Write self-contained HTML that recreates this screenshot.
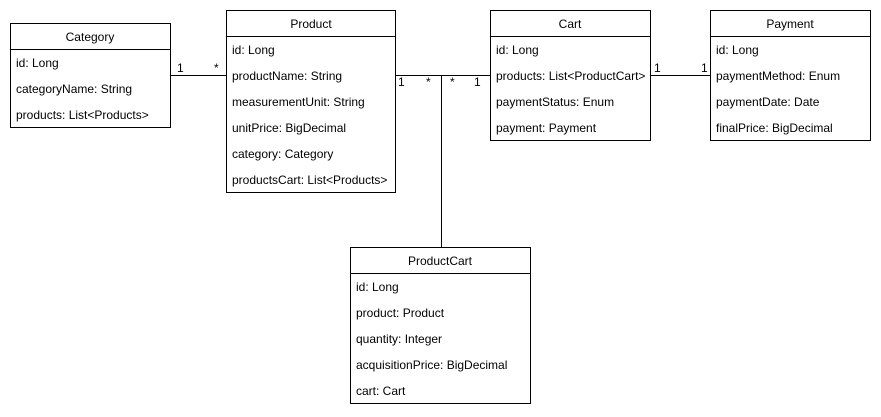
<!DOCTYPE html>
<html><head><meta charset="utf-8"><style>
html,body{margin:0;padding:0;background:#fff;}
svg{display:block;}
text{font-family:"Liberation Sans",Arial,sans-serif;font-size:12px;fill:#000;}
</style></head><body>
<svg width="881" height="417" viewBox="0 0 881 417" xmlns="http://www.w3.org/2000/svg">
<g fill="none" stroke="#000" stroke-width="1">
<line x1="170" y1="75.5" x2="226" y2="75.5"/>
<line x1="395" y1="75.5" x2="490" y2="75.5"/>
<line x1="441.5" y1="75" x2="441.5" y2="247"/>
<line x1="650" y1="75.5" x2="710" y2="75.5"/>
<rect x="10.5" y="23.5" width="160" height="104" fill="#fff"/>
<line x1="10.5" y1="49.5" x2="170.5" y2="49.5"/>
<rect x="226.5" y="10.5" width="169" height="182" fill="#fff"/>
<line x1="226.5" y1="36.5" x2="395.5" y2="36.5"/>
<rect x="490.5" y="10.5" width="160" height="130" fill="#fff"/>
<line x1="490.5" y1="36.5" x2="650.5" y2="36.5"/>
<rect x="710.5" y="10.5" width="160" height="130" fill="#fff"/>
<line x1="710.5" y1="36.5" x2="870.5" y2="36.5"/>
<rect x="350.5" y="247.5" width="180" height="156" fill="#fff"/>
<line x1="350.5" y1="273.5" x2="530.5" y2="273.5"/>
</g>
<g>
<text x="90" y="41" text-anchor="middle">Category</text>
<text x="16" y="67">id: Long</text>
<text x="16" y="93">categoryName: String</text>
<text x="16" y="119">products: List&lt;Products&gt;</text>

<text x="311" y="28" text-anchor="middle">Product</text>
<text x="232" y="54">id: Long</text>
<text x="232" y="80">productName: String</text>
<text x="232" y="106">measurementUnit: String</text>
<text x="232" y="132">unitPrice: BigDecimal</text>
<text x="232" y="158">category: Category</text>
<text x="232" y="184">productsCart: List&lt;Products&gt;</text>

<text x="570" y="28" text-anchor="middle">Cart</text>
<text x="496" y="54">id: Long</text>
<text x="496" y="80">products: List&lt;ProductCart&gt;</text>
<text x="496" y="106">paymentStatus: Enum</text>
<text x="496" y="132">payment: Payment</text>

<text x="790" y="28" text-anchor="middle">Payment</text>
<text x="716" y="54">id: Long</text>
<text x="716" y="80">paymentMethod: Enum</text>
<text x="716" y="106">paymentDate: Date</text>
<text x="716" y="132">finalPrice: BigDecimal</text>

<text x="440" y="265" text-anchor="middle">ProductCart</text>
<text x="356" y="291">id: Long</text>
<text x="356" y="317">product: Product</text>
<text x="356" y="343">quantity: Integer</text>
<text x="356" y="369">acquisitionPrice: BigDecimal</text>
<text x="356" y="395">cart: Cart</text>

<text x="177" y="72">1</text>
<text x="214" y="72">*</text>
<text x="398" y="86">1</text>
<text x="426" y="86">*</text>
<text x="450" y="86">*</text>
<text x="474" y="86">1</text>
<text x="654" y="72">1</text>
<text x="701" y="72">1</text>
</g>
</svg>
</body></html>
